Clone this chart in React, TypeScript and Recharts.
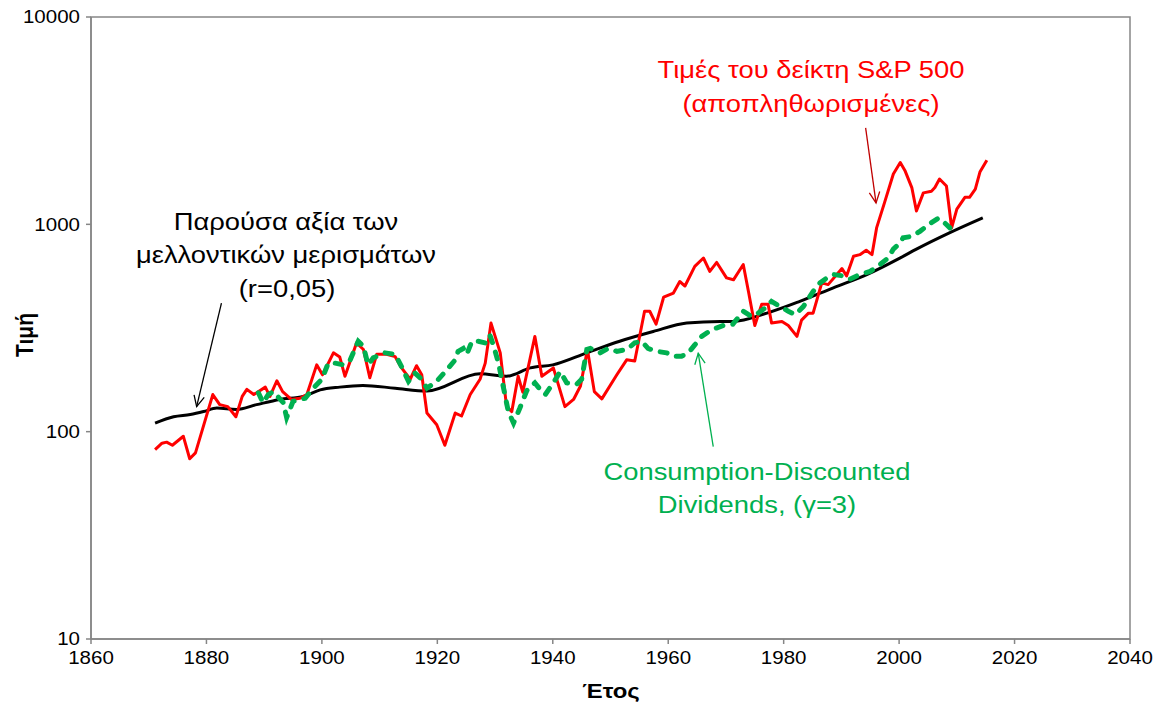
import React from "react";

// Library
import {
  LineChart,
  Line,
  XAxis,
  YAxis,
  ReferenceArea,
  ReferenceLine,
} from "recharts";

// S&P 500 real prices (red)
const spYears = [
  1871.1, 1872.3, 1873.1, 1874.1, 1876.0, 1877.1, 1878.1, 1881.1, 1882.3, 1883.7,
  1885.1, 1886.2, 1887.0, 1888.2, 1890.2, 1891.0, 1892.2, 1893.2, 1894.7, 1896.2,
  1897.4, 1899.1, 1900.1, 1902.0, 1903.1, 1904.0, 1906.0, 1907.2, 1908.3, 1909.5,
  1911.2, 1912.7, 1913.8, 1915.3, 1916.4, 1917.3, 1918.2, 1919.9, 1921.3, 1923.1,
  1924.2, 1925.7, 1927.4, 1928.3, 1929.3, 1930.9, 1932.0, 1932.9, 1934.0, 1934.8,
  1936.9, 1938.1, 1940.1, 1942.1, 1943.6, 1944.8, 1946.0, 1947.2, 1948.5, 1951.1,
  1952.8, 1954.2, 1955.9, 1956.8, 1957.9, 1959.2, 1960.9, 1962.0, 1962.9, 1964.6,
  1966.1, 1967.2, 1968.4, 1970.1, 1971.3, 1973.0, 1973.9, 1975.0, 1976.2, 1977.3,
  1977.9, 1979.7, 1980.8, 1982.3, 1983.1, 1984.3, 1985.1, 1986.6, 1987.7, 1990.1,
  1990.9, 1992.1, 1993.2, 1994.3, 1995.3, 1996.1, 1997.5, 1999.0, 2000.2, 2001.0,
  2002.2, 2003.0, 2004.2, 2005.6, 2006.2, 2007.0, 2008.2, 2009.1, 2010.0, 2011.4,
  2012.2, 2013.2, 2014.0, 2015.2,
];
const spValues = [
  82, 88, 89, 86, 95, 74, 79, 151, 135, 132,
  118, 148, 160, 151, 164, 148, 176, 156, 143, 145,
  151, 210, 188, 240, 229, 185, 268, 249, 182, 236,
  236, 230, 203, 179, 208, 188, 123, 108, 86, 123,
  119, 151, 179, 214, 334, 240, 132, 125, 185, 155,
  288, 185, 203, 132, 143, 166, 249, 156, 144, 188,
  222, 219, 381, 381, 330, 445, 466, 530, 504, 627,
  688, 593, 655, 552, 540, 640, 474, 325, 412, 412,
  334, 340, 325, 288, 345, 373, 373, 522, 512, 612,
  564, 701, 714, 750, 714, 961, 1280, 1750, 1987, 1820,
  1504, 1160, 1418, 1444, 1504, 1654, 1530, 961, 1183, 1350,
  1350, 1478, 1786, 2039,
];

// present value of future dividends, r=0.05 (black)
const pvYears = [
  1871.1, 1874.3, 1877.2, 1879.5, 1881.8, 1885.2, 1888.7, 1892.7, 1896.8, 1899.7,
  1903.1, 1907.1, 1912.7, 1918.2, 1927.4, 1932.0, 1936.1, 1940.0, 1945.9, 1951.6,
  1957.4, 1963.2, 1969.0, 1971.2, 1977.1, 1982.8, 1988.6, 1994.4, 2000.2, 2003.0,
  2008.8, 2014.5,
];
const pvValues = [
  110, 118, 121, 125, 130, 128, 135, 143, 148, 159,
  164, 167, 162, 157, 190, 185, 203, 210, 240, 273,
  304, 334, 340, 340, 373, 425, 494, 572, 689, 759,
  912, 1075,
];

// consumption-discounted dividends, gamma=3 (green)
const cdYears = [
  1889.0, 1889.8, 1890.7, 1891.6, 1893.3, 1893.9, 1895.0, 1897.1, 1898.5, 1900.0,
  1901.1, 1902.3, 1903.7, 1904.9, 1906.3, 1907.2, 1908.0, 1908.9, 1910.9, 1912.7,
  1913.8, 1915.0, 1916.1, 1917.3, 1918.2, 1919.9, 1921.6, 1923.1, 1923.6, 1924.5,
  1925.1, 1926.0, 1927.1, 1928.3, 1929.1, 1929.7, 1930.6, 1931.4, 1932.3, 1933.2,
  1934.3, 1935.5, 1936.9, 1938.1, 1938.7, 1940.1, 1941.3, 1942.4, 1944.1, 1945.0,
  1945.9, 1946.5, 1948.2, 1949.6, 1951.1, 1952.8, 1954.2, 1955.4, 1956.5, 1958.0,
  1959.7, 1960.9, 1962.3, 1963.5, 1964.6, 1965.8, 1967.5, 1969.5, 1971.2, 1973.0,
  1974.4, 1975.6, 1977.1, 1977.9, 1979.4, 1980.8, 1982.0, 1983.4, 1985.1, 1986.3,
  1987.5, 1988.6, 1990.3, 1991.5, 1993.2, 1995.0, 1996.7, 1998.1, 1999.0, 2000.2,
  2000.7, 2002.2, 2003.6, 2005.4, 2006.8, 2007.7, 2008.8,
];
const cdValues = [
  154, 138, 151, 156, 138, 117, 140, 145, 162, 179,
  214, 214, 210, 222, 273, 258, 210, 227, 240, 236,
  206, 175, 192, 179, 162, 175, 198, 222, 244, 252,
  236, 273, 273, 268, 292, 262, 214, 166, 125, 110,
  130, 158, 172, 156, 151, 172, 195, 172, 169, 179,
  249, 252, 240, 252, 244, 249, 268, 273, 252, 244,
  240, 231, 231, 240, 262, 288, 310, 325, 330, 381,
  360, 373, 401, 425, 401, 381, 367, 401, 474, 522,
  552, 573, 564, 544, 573, 593, 640, 688, 760, 815,
  862, 874, 925, 1011, 1071, 1028, 961,
];

const xTicks = [1860, 1880, 1900, 1920, 1940, 1960, 1980, 2000, 2020, 2040];
const yTicks = [10, 100, 1000, 10000];

const spData = spYears.map((year, i) => ({ year, v: spValues[i] }));
const pvData = pvYears.map((year, i) => ({ year, v: pvValues[i] }));
const cdData = cdYears.map((year, i) => ({ year, v: cdValues[i] }));

const FONT = "'Liberation Sans', Arial, sans-serif";
const AXIS = "#868686";
// the original picture is a bit wider than tall, text looks stretched
const SX = 1.14;

function Wide({ x, y, children, ...rest }: any) {
  return (
    <text transform={`translate(${x},${y}) scale(${SX},1)`} {...rest}>
      {children}
    </text>
  );
}

function XTick({ x, y, payload }: any) {
  return (
    <Wide x={x} y={y} dy="0.71em" textAnchor="middle" fontSize={18} fill="#000" fontFamily={FONT}>
      {payload.value}
    </Wide>
  );
}

function YTick({ x, y, payload }: any) {
  return (
    <Wide x={x} y={y} dy="0.355em" textAnchor="end" fontSize={18} fill="#000" fontFamily={FONT}>
      {payload.value}
    </Wide>
  );
}

function arrow(color: string) {
  return (props: any) => {
    const { x1, y1, x2, y2 } = props;
    const a = Math.atan2(y2 - y1, x2 - x1);
    const len = 12;
    const w = 0.45;
    const p1 = [x2 - len * Math.cos(a - w), y2 - len * Math.sin(a - w)];
    const p2 = [x2 - len * Math.cos(a + w), y2 - len * Math.sin(a + w)];
    return (
      <g>
        <line x1={x1} y1={y1} x2={x2} y2={y2} stroke={color} strokeWidth={1.3} />
        <polyline
          points={`${p1[0]},${p1[1]} ${x2},${y2} ${p2[0]},${p2[1]}`}
          fill="none"
          stroke={color}
          strokeWidth={1.3}
        />
      </g>
    );
  };
}

function App() {
  return (
    <div style={{ position: "absolute", left: 0, top: 0, background: "#fff" }}>
      <LineChart
        width={1161}
        height={709}
        margin={{ top: 17, right: 31, bottom: 0, left: 0 }}
        style={{ fontFamily: FONT }}
      >
        <XAxis
          dataKey="year"
          type="number"
          domain={[1860, 2040]}
          ticks={xTicks}
          allowDataOverflow
          height={70}
          stroke={AXIS}
          strokeWidth={1.5}
          tickSize={5}
          tickMargin={7}
          tick={<XTick />}
        />
        <YAxis
          type="number"
          scale="log"
          domain={[10, 10000]}
          ticks={yTicks}
          allowDataOverflow
          width={91}
          stroke={AXIS}
          strokeWidth={1.5}
          tickSize={5}
          tickMargin={6}
          tick={<YTick />}
        />
        <ReferenceArea
          x1={1860}
          x2={2040}
          y1={10}
          y2={10000}
          fill="none"
          stroke={AXIS}
          strokeWidth={1.5}
          fillOpacity={0}
        />
        <Line
          data={pvData}
          dataKey="v"
          type="monotone"
          stroke="#000000"
          strokeWidth={3}
          dot={false}
          isAnimationActive={false}
        />
        <Line
          data={spData}
          dataKey="v"
          type="linear"
          stroke="#ff0000"
          strokeWidth={3}
          dot={false}
          strokeLinejoin="round"
          isAnimationActive={false}
        />
        <Line
          data={cdData}
          dataKey="v"
          type="linear"
          stroke="#00b050"
          strokeWidth={5}
          strokeDasharray="7 10"
          strokeLinecap="round"
          dot={false}
          isAnimationActive={false}
        />
        <ReferenceLine
          segment={[
            { x: 1994.2, y: 2917 },
            { x: 1996.0, y: 1268 },
          ]}
          shape={arrow("#c00000")}
        />
        <ReferenceLine
          segment={[
            { x: 1882.6, y: 417 },
            { x: 1878.3, y: 132 },
          ]}
          shape={arrow("#000000")}
        />
        <ReferenceLine
          segment={[
            { x: 1967.8, y: 84.7 },
            { x: 1965.2, y: 239 },
          ]}
          shape={arrow("#00b050")}
        />
        <g fontFamily={FONT} fontSize={24} textAnchor="middle">
          <Wide x={811} y={78} fill="#ff0000">Τιμές του δείκτη S&amp;P 500</Wide>
          <Wide x={811} y={112} fill="#ff0000">(αποπληθωρισμένες)</Wide>
          <Wide x={286} y={230} fill="#000">Παρούσα αξία των</Wide>
          <Wide x={286} y={263} fill="#000">μελλοντικών μερισμάτων</Wide>
          <Wide x={287} y={297} fill="#000">(r=0,05)</Wide>
          <Wide x={757} y={480} fill="#00b050">Consumption-Discounted</Wide>
          <Wide x={757} y={513} fill="#00b050">Dividends, (γ=3)</Wide>
        </g>
        <g fontFamily={FONT} fontSize={21} fontWeight="bold" fill="#000" textAnchor="middle">
          <Wide x={611} y={698}>Έτος</Wide>
          <text transform="translate(33,335) rotate(-90) scale(1,1.14)">Τιμή</text>
        </g>
      </LineChart>
    </div>
  );
}

export default App;
